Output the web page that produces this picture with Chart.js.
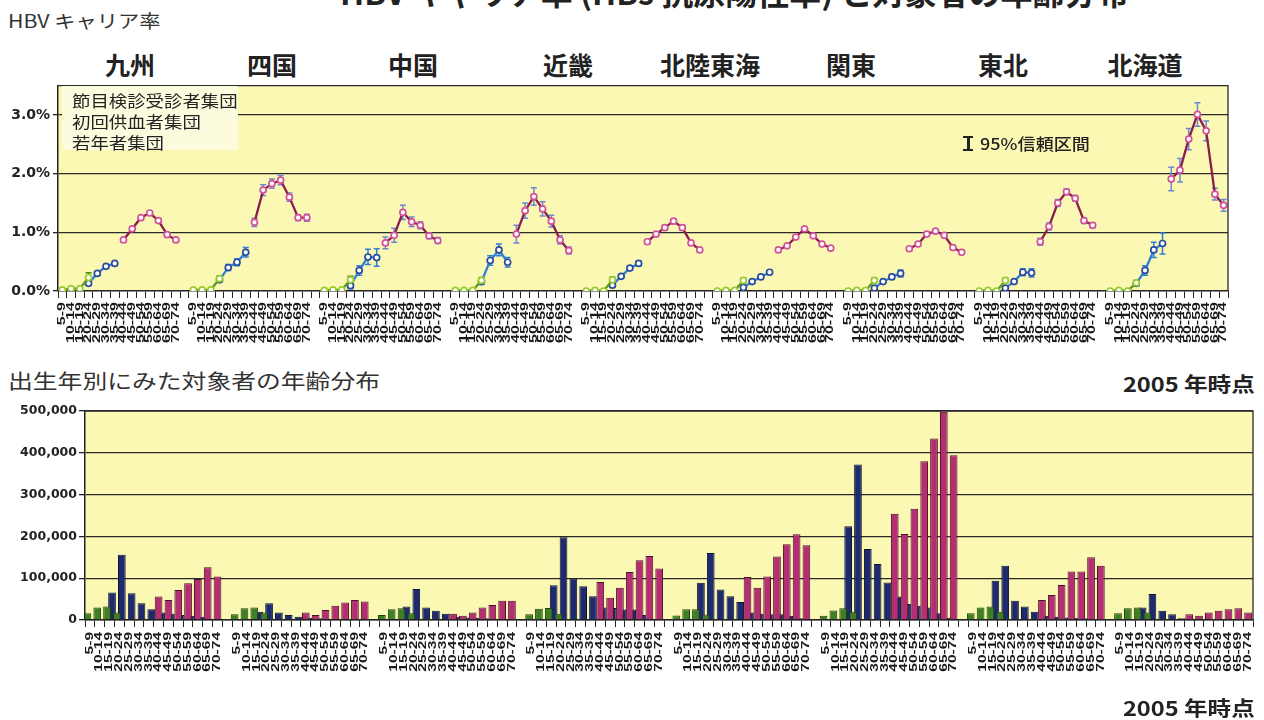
<!DOCTYPE html>
<html lang="ja">
<head>
<meta charset="utf-8">
<title>HBVキャリア率と対象者の年齢分布</title>
<script src="https://cdn.jsdelivr.net/npm/chart.js@4.4.1/dist/chart.umd.min.js"></script>
<style>
	body {
		margin: 0;
		width: 1264px;
		height: 720px;
		position: relative;
		overflow: hidden;
		background: #fff;
		color: #222;
		font-family: "Noto Sans CJK JP", sans-serif;
	}
	canvas { position: absolute; left: 0; }
	.t { position: absolute; white-space: nowrap; line-height: 1; }
	.wide { transform: scaleX(1.18); transform-origin: 0 0; }
	.wide-r { transform: scaleX(1.18); transform-origin: 100% 0; }
	.region { position: absolute; top: 52px; font-size: 25px; font-weight: 700; line-height: 1; transform: translateX(-50%); white-space: nowrap; }
	#legend-box {
		position: absolute; left: 62px; top: 86px; width: 176px; height: 64px;
		background: #fcfbde;
	}
	#legend-box div { position: absolute; left: 10px; font-size: 16px; line-height: 1; transform: scaleX(1.15); transform-origin: 0 0; white-space: nowrap; }
	#ci-icon { position: absolute; left: 963px; top: 136px; width: 10px; height: 15px; }
	#ci-icon::before { content: ""; position: absolute; left: 3.5px; top: 0; width: 3px; height: 15px; background: #222; }
	#ci-icon::after { content: ""; position: absolute; left: 0; top: 0; width: 10px; height: 11px; border-top: 2.5px solid #222; border-bottom: 2.5px solid #222; }
</style>
</head>
<body>
<div class="t" style="left:340px; top:-25px; font-size:32px; font-weight:700;">HBV キャリア率 (HBs 抗原陽性率) と対象者の年齢分布</div>
<div class="t wide" style="left:8px; top:11px; font-size:18px; color:#333;">HBV キャリア率</div>

<div class="region" style="left:130px;">九州</div>
<div class="region" style="left:272px;">四国</div>
<div class="region" style="left:413px;">中国</div>
<div class="region" style="left:568px;">近畿</div>
<div class="region" style="left:710px;">北陸東海</div>
<div class="region" style="left:851px;">関東</div>
<div class="region" style="left:1003px;">東北</div>
<div class="region" style="left:1145px;">北海道</div>

<canvas id="rate-chart" width="1264" height="275" style="top:80px;"></canvas>

<div id="legend-box">
	<div style="top:6px;">節目検診受診者集団</div>
	<div style="top:27px;">初回供血者集団</div>
	<div style="top:48px;">若年者集団</div>
</div>
<div id="ci-icon"></div>
<div class="t" style="left:980px; top:135px; font-size:16px; font-weight:500; transform:scaleX(1.13); transform-origin:0 0;">95%信頼区間</div>

<div class="t" style="left:8px; top:371px; font-size:20px; color:#333; transform:scaleX(1.24); transform-origin:0 0;">出生年別にみた対象者の年齢分布</div>
<div class="t wide-r" style="right:9px; top:374px; font-size:20px; font-weight:700;">2005 年時点</div>

<canvas id="count-chart" width="1264" height="295" style="top:400px;"></canvas>

<div class="t wide-r" style="right:9px; top:698px; font-size:20px; font-weight:700;">2005 年時点</div>

<script>
// Age bands used on both x axes
const ageGroups = ["5-9", "10-14", "15-19", "20-24", "25-29", "30-34", "35-39",
	"40-44", "45-49", "50-54", "55-59", "60-64", "65-69", "70-74"];

// Carrier rate (%) per group: young cohort 5-9..20-24
const youngRate = [
	[0.02, 0.04, 0.04, 0.23], [0.02, 0.02, 0.02, 0.21], [0.01, 0.02, 0.02, 0.19],
	[0.01, 0.01, 0.01, 0.18], [0.00, 0.01, 0.00, 0.19], [0.00, 0.01, 0.01, 0.18],
	[0.00, 0.01, 0.01, 0.18], [0.00, 0.01, 0.00, 0.18], [0.00, 0.01, 0.00, 0.14]
];
// First-time blood donors 20-24..35-39
const donorRate = [
	[0.13, 0.30, 0.42, 0.47], [0.19, 0.40, 0.49, 0.66], [0.09, 0.35, 0.58, 0.57],
	[0.16, 0.52, 0.70, 0.49], [0.10, 0.25, 0.39, 0.47], [0.06, 0.16, 0.24, 0.32],
	[0.05, 0.16, 0.24, 0.30], [0.05, 0.16, 0.32, 0.31], [0.13, 0.35, 0.70, 0.81]
];
// Health checkup examinees 40-44..70-74
const checkupRate = [
	[0.87, 1.06, 1.25, 1.33, 1.20, 0.96, 0.87],
	[1.17, 1.72, 1.83, 1.89, 1.60, 1.25, 1.25],
	[0.82, 0.95, 1.34, 1.18, 1.12, 0.94, 0.86],
	[0.97, 1.37, 1.61, 1.40, 1.19, 0.87, 0.69],
	[0.84, 0.97, 1.08, 1.19, 1.08, 0.82, 0.70],
	[0.70, 0.77, 0.92, 1.06, 0.94, 0.80, 0.73],
	[0.72, 0.80, 0.97, 1.02, 0.95, 0.74, 0.66],
	[0.84, 1.10, 1.50, 1.69, 1.58, 1.20, 1.12],
	[1.91, 2.06, 2.59, 3.01, 2.73, 1.65, 1.46]
];

// 95% confidence half-widths (%)
const youngErr = [
	[0, 0, 0, 0.08], [0, 0, 0, 0.05], [0, 0, 0, 0.06], [0, 0, 0, 0.05], [0, 0, 0, 0.05],
	[0, 0, 0, 0.04], [0, 0, 0, 0.04], [0, 0, 0, 0.04], [0, 0, 0, 0.04]
];
const donorErr = [
	[0.03, 0.03, 0.03, 0.03], [0.04, 0.05, 0.06, 0.08], [0.05, 0.08, 0.13, 0.15],
	[0.05, 0.08, 0.10, 0.08], [0.02, 0.03, 0.03, 0.04], [0.02, 0.02, 0.03, 0.03],
	[0.02, 0.03, 0.04, 0.06], [0.02, 0.03, 0.06, 0.07], [0.04, 0.08, 0.13, 0.18]
];
const checkupErr = [
	[0.03, 0.03, 0.03, 0.03, 0.03, 0.03, 0.03],
	[0.07, 0.09, 0.08, 0.08, 0.07, 0.05, 0.06],
	[0.10, 0.12, 0.12, 0.08, 0.06, 0.05, 0.05],
	[0.15, 0.13, 0.15, 0.12, 0.10, 0.07, 0.06],
	[0.04, 0.04, 0.04, 0.04, 0.04, 0.03, 0.03],
	[0.02, 0.02, 0.02, 0.02, 0.02, 0.02, 0.02],
	[0.03, 0.03, 0.03, 0.03, 0.03, 0.03, 0.03],
	[0.06, 0.06, 0.06, 0.05, 0.05, 0.05, 0.04],
	[0.20, 0.20, 0.18, 0.20, 0.17, 0.10, 0.10]
];

// Number of people in each age band (2005), per region
const youngCount = [
	[16000, 30000, 32000, 18000], [14000, 28000, 30000, 18000],
	[12000, 26000, 28000, 16000], [14000, 27000, 29000, 15000],
	[11000, 26000, 26000, 13000], [10000, 23000, 28000, 20000],
	[16000, 30000, 32000, 20000], [16000, 28000, 30000, 18000]
];
// 15-19..65-69
const donorCount = [
	[66000, 156000, 64000, 40000, 26000, 18000, 15000, 12000, 10000, 8000, 3000],
	[20000, 40000, 18000, 12000, 8000, 5000, 4000, 3000, 3000, 2000, 1000],
	[32000, 74000, 30000, 22000, 15000, 8000, 6000, 5000, 4000, 3000, 1000],
	[83000, 198000, 99000, 81000, 57000, 30000, 29000, 25000, 25000, 12000, 3000],
	[89000, 160000, 73000, 57000, 43000, 18000, 15000, 14000, 14000, 10000, 4000],
	[224000, 372000, 170000, 134000, 90000, 56000, 38000, 34000, 30000, 16000, 5000],
	[94000, 130000, 46000, 32000, 20000, 10000, 8000, 6000, 5000, 4000, 1000],
	[30000, 62000, 22000, 14000, 4000, 3000, 2000, 2000, 2000, 1000, 0]
];
// 40-44..70-74
const checkupCount = [
	[56000, 48000, 72000, 88000, 98000, 126000, 104000],
	[18000, 12000, 24000, 34000, 42000, 48000, 44000],
	[15000, 10000, 18000, 30000, 36000, 46000, 46000],
	[91000, 53000, 77000, 115000, 143000, 153000, 123000],
	[103000, 77000, 104000, 152000, 181000, 205000, 179000],
	[254000, 206000, 266000, 380000, 434000, 498000, 394000],
	[48000, 60000, 84000, 116000, 116000, 150000, 130000],
	[14000, 10000, 18000, 22000, 26000, 28000, 18000]
];

// Category labels: one block of age bands per group, blank slot between groups
function buildLabels(groupCount) {
	const labels = [];
	for (let g = 0; g < groupCount; g++) {
		if (g > 0) labels.push("");
		labels.push(...ageGroups);
	}
	return labels;
}

// Place each group's values at their age bands on the shared axis
function spread(groups, firstAge) {
	const out = [];
	groups.forEach((row, g) => {
		if (g > 0) out.push(null);
		const block = new Array(ageGroups.length).fill(null);
		row.forEach((v, i) => { block[firstAge + i] = v; });
		out.push(...block);
	});
	return out;
}

const isWhole = (v) => Math.abs(v - Math.round(v)) < 1e-6;

// Yellow plot background and frame
const plotFrame = {
	id: "plotFrame",
	beforeDraw(chart) {
		const { ctx, chartArea: a } = chart;
		ctx.save();
		ctx.fillStyle = "#fbf8b4";
		ctx.fillRect(a.left, a.top, a.width, a.height);
		ctx.restore();
	},
	afterDraw(chart) {
		const { ctx, chartArea: a } = chart;
		ctx.save();
		ctx.strokeStyle = "#2a2a2a";
		ctx.lineWidth = 1.3;
		ctx.beginPath();
		ctx.moveTo(a.left, a.top);
		ctx.lineTo(a.right, a.top);
		ctx.lineTo(a.right, a.bottom);
		ctx.stroke();
		ctx.restore();
	}
};

// Vertical 95% CI bars for the rate series
const errorBars = {
	id: "errorBars",
	beforeDatasetsDraw(chart) {
		const { ctx, scales: { x, y } } = chart;
		chart.data.datasets.forEach((ds) => {
			if (!ds.errors) return;
			ctx.save();
			ctx.strokeStyle = ds.errorColor;
			ctx.lineWidth = 1.5;
			ds.data.forEach((v, i) => {
				const e = ds.errors[i];
				if (v === null || !e) return;
				const px = x.getPixelForValue(i);
				const top = y.getPixelForValue(v + e);
				const bot = y.getPixelForValue(Math.max(0, v - e));
				ctx.beginPath();
				ctx.moveTo(px, top);
				ctx.lineTo(px, bot);
				ctx.moveTo(px - 3, top);
				ctx.lineTo(px + 3, top);
				ctx.moveTo(px - 3, bot);
				ctx.lineTo(px + 3, bot);
				ctx.stroke();
			});
			ctx.restore();
		});
	}
};

// Tall, narrow rotated age labels under the x axis
const tallLabels = {
	id: "tallLabels",
	afterDraw(chart, args, opts) {
		const scale = chart.scales.x;
		const { ctx } = chart;
		ctx.save();
		ctx.fillStyle = "#1a1a1a";
		ctx.font = "bold 10px 'Liberation Sans', Arial, sans-serif";
		ctx.textAlign = "right";
		ctx.textBaseline = "middle";
		chart.data.labels.forEach((label, i) => {
			if (!label) return;
			ctx.save();
			ctx.translate(scale.getPixelForValue(i), scale.top + opts.offset);
			ctx.rotate(-Math.PI / 2);
			ctx.scale(opts.stretch, 1);
			ctx.fillText(label, 0, 0);
			ctx.restore();
		});
		ctx.restore();
	}
};

Chart.defaults.font.family = "'DejaVu Sans', sans-serif";

// Upper chart: carrier rate by age band
const rateLabels = buildLabels(checkupRate.length);

function rateSeries(values, errs, firstAge, line, point, errColor) {
	return {
		data: spread(values, firstAge),
		errors: spread(errs, firstAge),
		errorColor: errColor,
		borderColor: line,
		borderWidth: 2.3,
		pointRadius: 3,
		pointBorderWidth: 1.7,
		pointBorderColor: point,
		pointBackgroundColor: "#ffffff",
		spanGaps: false,
		tension: 0
	};
}

new Chart(document.getElementById("rate-chart"), {
	type: "line",
	data: {
		labels: rateLabels,
		datasets: [
			rateSeries(youngRate, youngErr, 0, "#5b9a1e", "#9acb2e", "#4d8a1a"),
			rateSeries(donorRate, donorErr, 3, "#2f7fd6", "#2a4c9e", "#2f7fd6"),
			rateSeries(checkupRate, checkupErr, 7, "#8a1d4e", "#d2529b", "#6f86d2")
		]
	},
	options: {
		responsive: false,
		animation: false,
		layout: { padding: { top: 3, right: 36, left: 0, bottom: 0 } },
		plugins: {
			legend: { display: false },
			tooltip: { enabled: false },
			tallLabels: { offset: 11, stretch: 1.6 }
		},
		scales: {
			x: {
				type: "category",
				offset: true,
				grid: { offset: true, drawOnChartArea: false, color: "#222", tickLength: 7, lineWidth: 1 },
				border: { color: "#222", width: 1.5 },
				ticks: { display: false, autoSkip: false },
				afterFit(scale) {
					scale.height = 64;
					scale.paddingLeft = 0;
					scale.paddingRight = 0;
				}
			},
			y: {
				min: 0,
				max: 3.5,
				grid: {
					color: (c) => (c.tick && isWhole(c.tick.value) && c.tick.value > 0 ? "#2a2a2a" : "rgba(0,0,0,0)"),
					tickColor: "#222",
					tickLength: 5,
					lineWidth: 1.3
				},
				border: { color: "#222", width: 1.5 },
				ticks: {
					stepSize: 0.2,
					autoSkip: false,
					padding: 3,
					color: "#222",
					font: { size: 14, weight: "bold" },
					callback: (v) => (isWhole(v) ? v.toFixed(1) + "%" : null)
				},
				afterFit(scale) {
					scale.width = 58;
					scale.paddingTop = 0;
					scale.paddingBottom = 0;
				}
			}
		}
	},
	plugins: [plotFrame, errorBars, tallLabels]
});

// Lower chart: population by age band
const countLabels = buildLabels(checkupCount.length);

function countSeries(values, firstAge, fill, edge) {
	return {
		data: spread(values, firstAge),
		backgroundColor: fill,
		borderColor: edge,
		borderWidth: 1
	};
}

new Chart(document.getElementById("count-chart"), {
	type: "bar",
	data: {
		labels: countLabels,
		datasets: [
			countSeries(youngCount, 0, "#3f7f24", "#1f3f12"),
			countSeries(checkupCount, 7, "#b32f72", "#4c0f2c"),
			countSeries(donorCount, 2, "#1d2a6e", "#0d1438")
		]
	},
	options: {
		responsive: false,
		animation: false,
		layout: { padding: { top: 11, right: 11, left: 0, bottom: 0 } },
		datasets: { bar: { categoryPercentage: 0.76, barPercentage: 3.1 } },
		plugins: {
			legend: { display: false },
			tooltip: { enabled: false },
			tallLabels: { offset: 12, stretch: 1.55 }
		},
		scales: {
			x: {
				grid: { offset: true, drawOnChartArea: false, color: "#222", tickLength: 7, lineWidth: 1 },
				border: { color: "#222", width: 1.5 },
				ticks: { display: false, autoSkip: false },
				afterFit(scale) {
					scale.height = 75;
					scale.paddingLeft = 0;
					scale.paddingRight = 0;
				}
			},
			y: {
				min: 0,
				max: 500000,
				grid: { color: "#2a2a2a", tickColor: "#222", tickLength: 6, lineWidth: 1.3 },
				border: { color: "#222", width: 1.5 },
				ticks: {
					stepSize: 50000,
					autoSkip: false,
					padding: 2,
					color: "#222",
					font: { size: 12.5, weight: "bold" },
					callback: (v) => (v % 100000 === 0 ? v.toLocaleString("en-US") : null)
				},
				afterFit(scale) {
					scale.width = 85;
					scale.paddingTop = 0;
					scale.paddingBottom = 0;
				}
			}
		}
	},
	plugins: [plotFrame, tallLabels]
});
</script>
</body>
</html>
